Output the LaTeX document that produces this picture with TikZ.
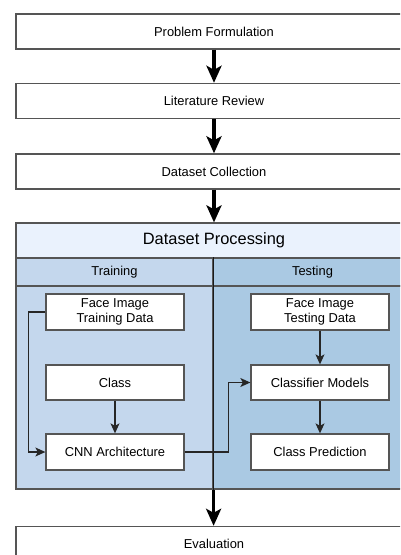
\documentclass[tikz,border=0pt]{standalone}
\usepackage{fontspec}
\setmainfont{Liberation Sans}
\usetikzlibrary{arrows.meta,positioning,calc}

\definecolor{edgegray}{HTML}{555555}
\definecolor{headfill}{HTML}{EAF2FD}
\definecolor{trainfill}{HTML}{C4D7ED}
\definecolor{testfill}{HTML}{AAC9E3}

\tikzset{
  x=1pt, y=-1pt,
  stage/.style={draw=edgegray, line width=1.4pt, fill=white, minimum width=396pt,
    minimum height=35pt, inner sep=0pt, font=\fontsize{12.9}{14}\selectfont},
  innerbox/.style={draw=edgegray, line width=1.3pt, fill=white, minimum width=138pt,
    minimum height=36pt, inner sep=0pt, align=center,
    font=\fontsize{12.9}{14.8}\selectfont},
  lanebox/.style={draw=edgegray, line width=1.2pt, inner sep=0pt},
  bigarrow/.style={line width=3.6pt, -{Stealth[length=17pt, width=15pt, inset=4pt]}},
  thinarrow/.style={line width=1.1pt, draw=black!85,
    -{Stealth[length=10pt, width=9pt, inset=2.5pt]}},
}

\begin{document}
\begin{tikzpicture}
\useasboundingbox (0,0) rectangle (400,555);
\clip (0,0) rectangle (400,555);
\fill[white] (0,0) rectangle (400,555);

% main stages
\node[stage] (pf) at (214,31.5) {Problem Formulation};
\node[stage] (lr) at (214,101) {Literature Review};
\node[stage] (dc) at (214,171.5) {Dataset Collection};

% dataset processing pool with two lanes
\node[lanebox, fill=headfill, minimum width=396pt, minimum height=35pt,
  font=\fontsize{16.4}{18}\selectfont] (dp) at (214,240.5) {Dataset Processing};
\node[lanebox, fill=trainfill, minimum width=197pt, minimum height=28pt,
  font=\fontsize{12.9}{14}\selectfont] (trh) at (114.5,272) {Training};
\node[lanebox, fill=testfill, minimum width=199pt, minimum height=28pt,
  font=\fontsize{12.9}{14}\selectfont] (teh) at (312.5,272) {Testing};
\node[lanebox, fill=trainfill, minimum width=197pt, minimum height=203pt]
  (trb) at (114.5,387.5) {};
\node[lanebox, fill=testfill, minimum width=199pt, minimum height=203pt]
  (teb) at (312.5,387.5) {};
\draw[line width=1.2pt, black!90] (trh.north east) -- (trb.south east);

\node[stage] (ev) at (214,544) {Evaluation};

% training lane
\node[innerbox] (ftr) at (115,312) {Face Image\\Training Data};
\node[innerbox, minimum height=35pt] (cls) at (115,382.5) {Class};
\node[innerbox] (cnn) at (115,452) {CNN Architecture};

% testing lane
\node[innerbox] (fte) at (320,312) {Face Image\\Testing Data};
\node[innerbox, minimum height=35pt] (clm) at (320,382.5) {Classifier Models};
\node[innerbox] (cpr) at (320,452) {Class Prediction};

% stage flow
\draw[bigarrow] (pf) -- (lr);
\draw[bigarrow] (lr) -- (dc);
\draw[bigarrow] (dc) -- (dp);
\draw[bigarrow] (trb.south east) -- (ev.north -| trb.south east);

% lane connectors
\draw[thinarrow] (ftr.west) -- ++(-17,0) |- (cnn.west);
\draw[thinarrow] (cls) -- (cnn);
\draw[thinarrow] (cnn.east) -- ++(44,0) |- (clm.west);
\draw[thinarrow] (fte) -- (clm);
\draw[thinarrow] (clm) -- (cpr);
\end{tikzpicture}
\end{document}
